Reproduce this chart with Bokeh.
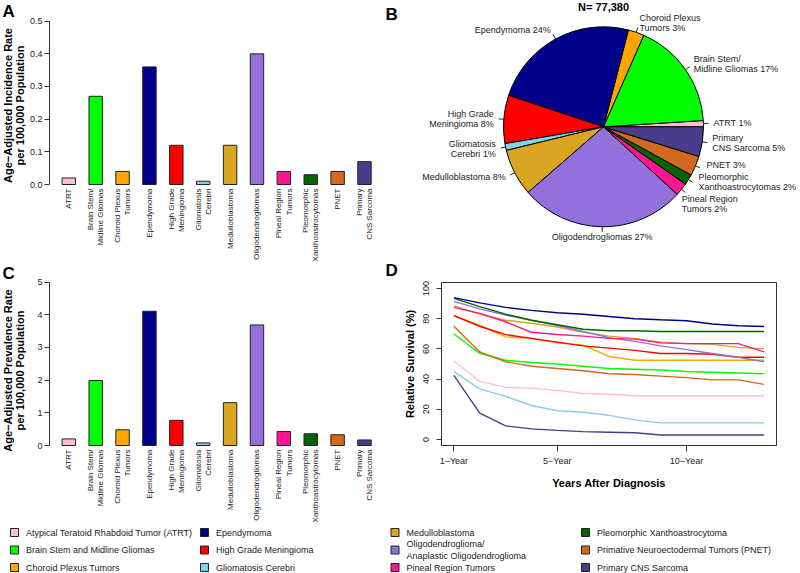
from math import pi
import numpy as np
from bokeh.plotting import figure
from bokeh.layouts import column, row
from bokeh.models import Range1d, FixedTicker, ColumnDataSource, PrintfTickFormatter
from bokeh.core.properties import value
from bokeh.embed import file_html
from bokeh.resources import INLINE

FONT = "Liberation Sans"

# ---------------- data ----------------
bar_labels = ["ATRT", "Brain Stem/\nMidline Gliomas", "Choroid Plexus\nTumors", "Ependymoma",
              "High Grade\nMeningioma", "Gliomatosis\nCerebri", "Medulloblastoma", "Oligodendrogliomas",
              "Pineal Region\nTumors", "Pleomorphic\nXanthoastrocytomas", "PNET", "Primary\nCNS Sarcoma"]
legend_names = ["Atypical Teratoid Rhabdoid Tumor (ATRT)", "Brain Stem and Midline Gliomas",
                "Choroid Plexus Tumors", "Ependymoma", "High Grade Meningioma", "Gliomatosis Cerebri",
                "Medulloblastoma", "Oligodendroglioma/\nAnaplastic Oligodendroglioma", "Pineal Region Tumors",
                "Pleomorphic Xanthoastrocytoma", "Primative Neuroectodermal Tumors (PNET)",
                "Primary CNS Sarcoma"]
colors = ["#FFC0CB", "#00FF00", "#FFA500", "#00008B", "#FF0000", "#87CEEB",
          "#DAA520", "#9370DB", "#FF1493", "#006400", "#D2691E", "#483D8B"]

incidence = [0.02, 0.27, 0.04, 0.36, 0.12, 0.01, 0.12, 0.40, 0.04, 0.03, 0.04, 0.07]
prevalence = [0.20, 1.99, 0.48, 4.11, 0.77, 0.08, 1.31, 3.69, 0.43, 0.36, 0.33, 0.17]
incidence_ticks = [0.0, 0.1, 0.2, 0.3, 0.4, 0.5]
prevalence_ticks = [0, 1, 2, 3, 4, 5]

n_total = 77380
pie_names = ["ATRT", "Brain Stem/\nMidline Gliomas", "Choroid Plexus\nTumors", "Ependymoma",
             "High Grade\nMeningioma", "Gliomatosis\nCerebri", "Medulloblastoma", "Oligodendrogliomas",
             "Pineal Region\nTumors", "Pleomorphic\nXanthoastrocytomas", "PNET", "Primary\nCNS Sarcoma"]
pie_share = [1.0, 17.4, 2.6, 23.9, 7.8, 1.1, 7.6, 26.8, 2.1, 1.7, 3.2, 4.8]
pie_pct_shown = [1, 17, 3, 24, 8, 1, 8, 27, 2, 2, 3, 5]

years = [1, 2, 3, 4, 5, 6, 7, 8, 9, 10, 11, 12, 13]
year_ticks = [1, 5, 10]
year_tick_labels = ["1\u2212Year", "5\u2212Year", "10\u2212Year"]
surv_ticks = [0, 20, 40, 60, 80, 100]
surv_atrt = [52, 38.5, 34.5, 34, 32.5, 30.5, 30, 29, 29, 29, 29, 29, 29]
surv_bs = [70, 57, 52.5, 51, 50, 48.5, 47, 46.5, 46, 45, 44.5, 44, 43.5]
surv_cp = [82, 75.5, 68, 67, 64, 62.5, 55, 52.5, 52.5, 52.5, 52.5, 52.5, 52.5]
surv_ep = [94, 90.5, 87.5, 85.5, 84, 83, 81.5, 80, 79.3, 78.7, 76.5, 75.3, 74.8]
surv_hgm = [82, 75, 69.5, 67, 64.5, 62, 60.5, 59, 57, 57, 56.5, 54.5, 54.5]
surv_gc = [45, 33.5, 28.5, 22.5, 19, 18, 16, 13, 11, 11, 11, 11, 11]
surv_med = [88.5, 83, 79, 77, 74.5, 71, 68.5, 67, 64.5, 63.5, 63, 61, 60]
surv_oligo = [91.5, 86.5, 82.5, 79, 75.5, 71.5, 67.5, 65, 62, 59.5, 57, 54.5, 51.5]
surv_pineal = [87.5, 83.5, 78, 71, 69.5, 68.5, 67, 66.5, 64, 63.5, 63.5, 63.5, 58]
surv_pxa = [93.5, 88, 83, 79, 76, 73, 72, 72, 71.5, 71.5, 71.5, 71.5, 71.5]
surv_pnet = [75, 58, 51.5, 48.5, 47, 45.5, 43.5, 43, 42, 41, 39.5, 39.5, 36.5]
surv_sarcoma = [42.5, 17.5, 9, 7, 6, 5.2, 4.8, 4.4, 3, 3, 3, 3, 3]
survival = [surv_atrt, surv_bs, surv_cp, surv_ep, surv_hgm, surv_gc, surv_med,
            surv_oligo, surv_pineal, surv_pxa, surv_pnet, surv_sarcoma]

# layout-only constants
pie_label_nudge_deg = [0, 0, 0, 0, 0, 0, 0, 0, -6, 1.5, 2.5, 0]


def base_fig(**kw):
    p = figure(toolbar_location=None, output_backend="svg", **kw)
    try:
        p.frame_align = False
    except Exception:
        pass
    p.grid.visible = False
    return p


def style_axis(ax):
    ax.major_tick_out = 5
    ax.major_tick_in = 0
    ax.minor_tick_out = 0
    ax.minor_tick_in = 0
    ax.axis_line_color = "#333333"
    ax.major_tick_line_color = "#333333"
    ax.major_label_text_font = FONT
    ax.major_label_text_font_size = "9px"
    ax.major_label_text_color = "#222222"
    ax.axis_label_text_font = FONT
    ax.axis_label_text_font_size = "11px"
    ax.axis_label_text_font_style = "bold"
    ax.axis_label_text_color = "black"


def put_letter(p, x, y, t):
    p.text(x=[x], y=[y], text=[t], text_font=value(FONT), text_font_size="17px",
           text_font_style="bold", text_baseline="top", text_align="left", text_color="black")


# bar panel geometry (page pixels)
X0, DX = 68.3, 26.88
SIDE_W = 26
FRAME_L = 49


def side_panel(top_y, bottom_y, letter, title, title_cy):
    p = base_fig(width=SIDE_W, height=bottom_y - top_y, x_range=Range1d(0, SIDE_W),
                 y_range=Range1d(-bottom_y, -top_y), x_axis_location=None, y_axis_location=None,
                 min_border=0)
    p.outline_line_color = None
    put_letter(p, 2, -(top_y + 1), letter)
    p.text(x=[13.5], y=[-title_cy], text=[title], angle=pi / 2, text_align="center",
           text_baseline="middle", text_font=value(FONT), text_font_size="11px",
           text_font_style="bold", text_color="black", text_line_height=1.05)
    return p


def bar_panel(vals, ticks, fmt, ppu, zero_y, top_y, bottom_y, letters):
    p = base_fig(width=400 - SIDE_W, height=bottom_y - top_y,
                 x_range=Range1d((FRAME_L - X0) / DX, (400 - X0) / DX),
                 y_range=Range1d((zero_y - bottom_y) / ppu, (zero_y - top_y) / ppu),
                 min_border_left=FRAME_L - SIDE_W, min_border_right=0, min_border_top=0,
                 min_border_bottom=0)
    p.outline_line_color = None
    p.xaxis.visible = False
    src = ColumnDataSource(dict(x=list(range(len(vals))), top=vals, color=colors, label=bar_labels))
    p.vbar(x="x", top="top", bottom=0, width=0.5, fill_color="color", line_color="#222222",
           line_width=1, source=src)
    p.text(x="x", y=-4.0 / ppu, text="label", source=src, angle=pi / 2, text_align="right",
           text_baseline="middle", text_font=value(FONT), text_font_size="8px", text_color="#222222",
           text_line_height=1.15)
    ax = p.yaxis[0]
    ax.ticker = FixedTicker(ticks=ticks)
    ax.formatter = PrintfTickFormatter(format=fmt)
    ax.bounds = (ticks[0], ticks[-1])
    style_axis(ax)
    ax.major_label_standoff = 2
    for (lx, ly, t) in letters:
        put_letter(p, (lx - X0) / DX, (zero_y - ly) / ppu, t)
    return p


pa_side = side_panel(0, 262, "A", "Age\u2212Adjusted Incidence Rate\nper 100,000 Population", 105)
pa = bar_panel(incidence, incidence_ticks, "%.1f", 326.7, 184, 0, 262, [(385, 4, "B")])
pc_side = side_panel(262, 525, "C", "Age\u2212Adjusted Prevalence Rate\nper 100,000 Population", 370)
pc = bar_panel(prevalence, prevalence_ticks, "%d", 32.67, 445, 262, 525, [(385, 260, "D")])

# ---------------- pie (B) ----------------
pb = base_fig(width=400, height=262, x_range=Range1d(400, 800), y_range=Range1d(-262, 0),
              x_axis_location=None, y_axis_location=None, min_border=0)
pb.outline_line_color = None
cx, cy, R = 603, -126.3, 100
share = np.array(pie_share) / np.sum(pie_share)
edges = np.concatenate([[0.0], np.cumsum(share)]) * 2 * pi
starts, ends = edges[:-1], edges[1:]
mids = (starts + ends) / 2
lab_ang = mids + np.radians(pie_label_nudge_deg)
pb.wedge(x=cx, y=cy, radius=R, start_angle=starts, end_angle=ends, fill_color=colors,
         line_color="black", line_width=1)
pb.segment(x0=cx + R * np.cos(mids), y0=cy + R * np.sin(mids),
           x1=cx + 1.05 * R * np.cos(mids), y1=cy + 1.05 * R * np.sin(mids),
           line_color="#222222", line_width=1)
aligns = ["center" if abs(np.cos(m)) < 0.1 else ("left" if np.cos(m) > 0 else "right") for m in lab_ang]
labels = [f"{n} {v}%" for n, v in zip(pie_names, pie_pct_shown)]
pb.text(x=cx + 1.1 * R * np.cos(lab_ang), y=cy + 1.1 * R * np.sin(lab_ang), text=labels,
        text_align=aligns, text_baseline="middle", text_font=value(FONT), text_font_size="9px",
        text_color="#222222", text_line_height=1.0)
pb.text(x=[cx], y=[-6], text=[f"N= {n_total:,}"], text_font=value(FONT), text_font_size="11px",
        text_font_style="bold", text_align="center", text_baseline="middle", text_color="black")

# ---------------- survival (D) ----------------
pd_ = base_fig(width=400, height=263, x_range=Range1d(0.52, 13.48), y_range=Range1d(-4, 104),
               min_border_left=41, min_border_right=24, min_border_top=20, min_border_bottom=80)
pd_.outline_line_color = "#333333"
pd_.outline_line_width = 1
for s, c in zip(survival, colors):
    pd_.line(years, s, line_color=c, line_width=1.4)
xa = pd_.xaxis[0]
xa.ticker = FixedTicker(ticks=year_ticks)
xa.major_label_overrides = {t: l for t, l in zip(year_ticks, year_tick_labels)}
xa.axis_label = "Years After Diagnosis"
style_axis(xa)
xa.major_tick_out = 6
xa.major_label_standoff = 4
xa.axis_label_standoff = 8
ya = pd_.yaxis[0]
ya.ticker = FixedTicker(ticks=surv_ticks)
ya.axis_label = "Relative Survival (%)"
ya.major_label_orientation = "vertical"
style_axis(ya)
ya.major_label_standoff = 7
ya.axis_label_standoff = 5

# ---------------- legend ----------------
pl = base_fig(width=800, height=48, x_range=Range1d(0, 800), y_range=Range1d(-573, -525),
              x_axis_location=None, y_axis_location=None, min_border=0)
pl.outline_line_color = None
col_sq = [14, 204, 394.5, 585]
row_y = [532, 549.5, 567]
sq_x = [col_sq[i // 3] for i in range(len(legend_names))]
sq_y = [-row_y[i % 3] for i in range(len(legend_names))]
pl.rect(x=sq_x, y=sq_y, width=8, height=8, fill_color=colors, line_color="#222222", line_width=1)
pl.text(x=[x + 11.5 for x in sq_x], y=sq_y, text=legend_names, text_align="left", text_baseline="middle",
        text_font=value(FONT), text_font_size="9px", text_color="#222222", text_line_height=1.15)

layout = column(row(pa_side, pa, pb), row(pc_side, pc, pd_), pl)
open("out.html", "w").write(file_html(layout, INLINE))
